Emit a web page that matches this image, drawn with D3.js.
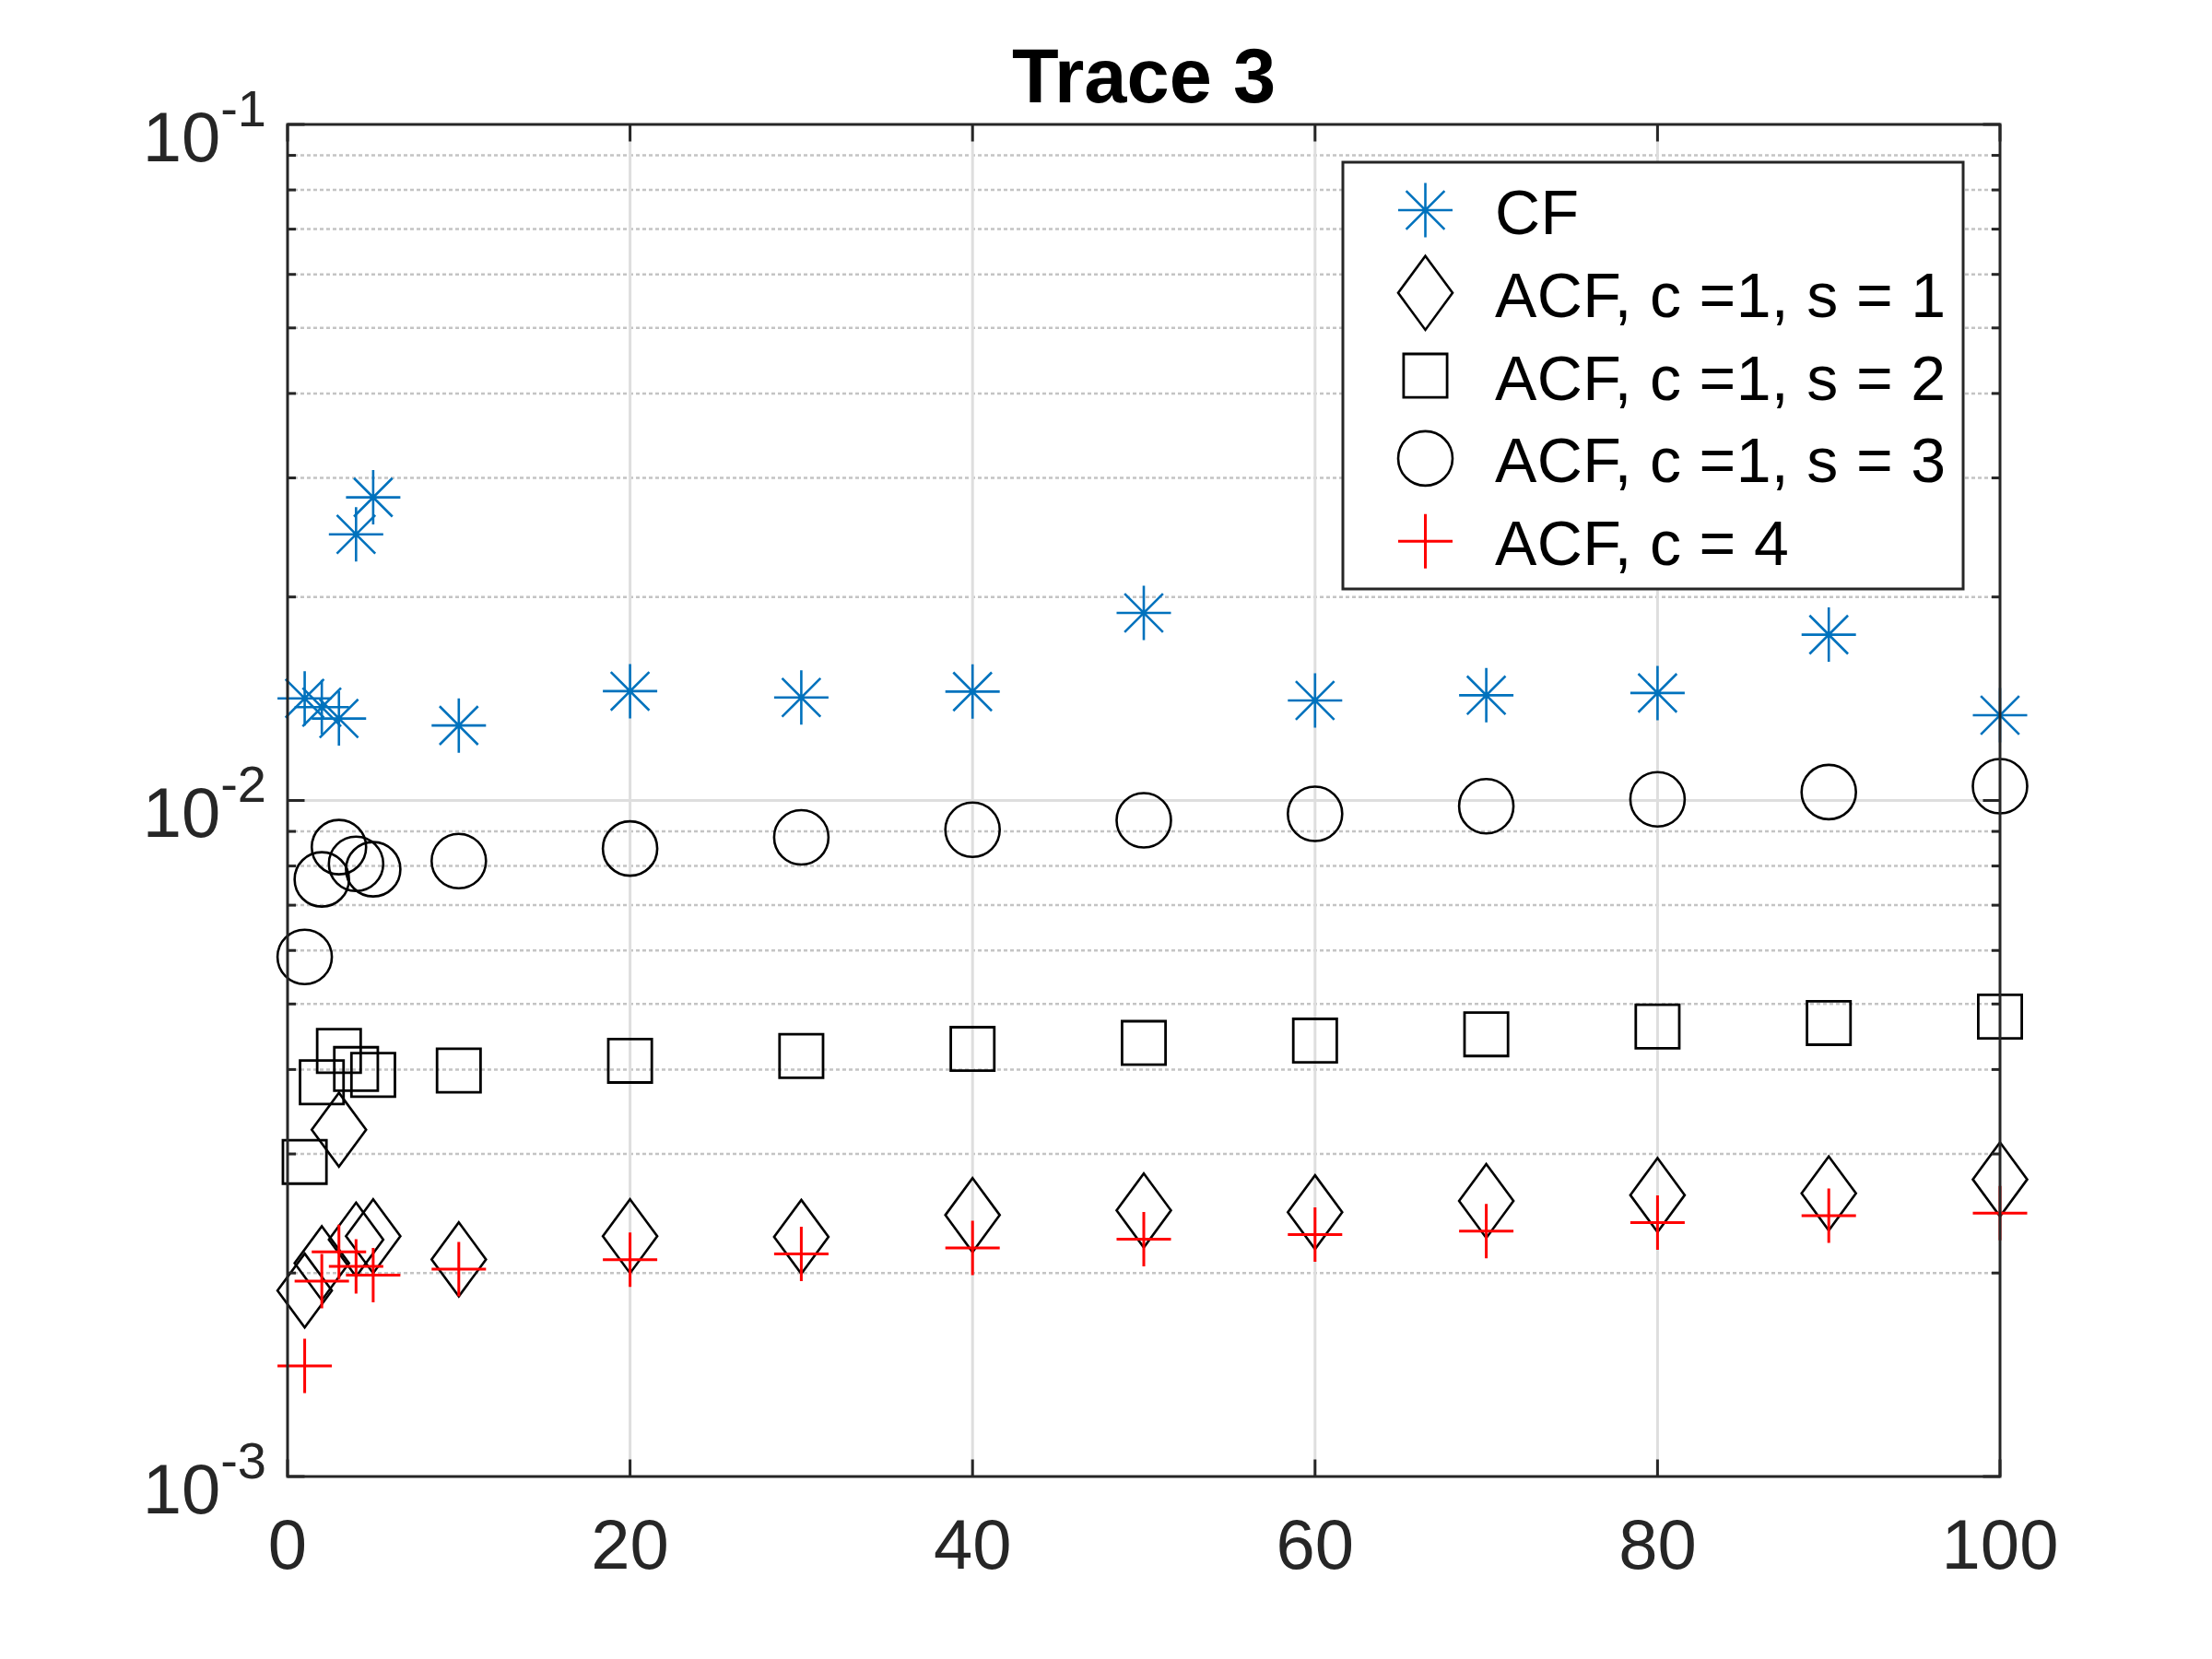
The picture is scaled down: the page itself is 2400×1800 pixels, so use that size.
<!DOCTYPE html>
<html>
<head>
<meta charset="utf-8">
<script src="https://cdn.jsdelivr.net/npm/d3@7/dist/d3.min.js"></script>
<style>
  html, body { margin: 0; padding: 0; background: #fff; }
  svg { display: block; }
</style>
</head>
<body>
<svg id="chart" width="2400" height="1800"></svg>
<script>
// ---------------- data ----------------
const titleText = "Trace 3";
const lags = [1, 2, 3, 4, 5, 10, 20, 30, 40, 50, 60, 70, 80, 90, 100];
const cf      = [0.01416, 0.01374, 0.01322, 0.02475, 0.02808, 0.01291, 0.01451, 0.01420, 0.01449, 0.01894, 0.01406, 0.01431, 0.01442, 0.01759, 0.01337];
const acfS1   = [0.001884, 0.002068, 0.003258, 0.002241, 0.002267, 0.002095, 0.002267, 0.002262, 0.002436, 0.002475, 0.002460, 0.002556, 0.002608, 0.002623, 0.002751];
const acfS2   = [0.002920, 0.003829, 0.004262, 0.004007, 0.003927, 0.003986, 0.004121, 0.004188, 0.004290, 0.004378, 0.004413, 0.004510, 0.004631, 0.004687, 0.004789];
const acfS3   = [0.005868, 0.007643, 0.008531, 0.008058, 0.007911, 0.008134, 0.008490, 0.008819, 0.009050, 0.009346, 0.009554, 0.009804, 0.01004, 0.01029, 0.01050];
const acfC4   = [0.001458, 0.001945, 0.002150, 0.002045, 0.001985, 0.002026, 0.002093, 0.002134, 0.002178, 0.002244, 0.002280, 0.002307, 0.002374, 0.002431, 0.002452];
const seriesNames = ["CF", "ACF, c =1, s = 1", "ACF, c =1, s = 2", "ACF, c =1, s = 3", "ACF, c = 4"];
const xTicks = [0, 20, 40, 60, 80, 100];
const yMajorExp = [-3, -2, -1];
const yDomain = [1e-3, 1e-1];
const xDomain = [0, 100];

// ---------------- layout ----------------
const L = 312, R = 2170, T = 135, B = 1602;
const axisColor = "#262626";
const svg = d3.select("#chart");
const x = d3.scaleLinear().domain(xDomain).range([L, R]);
const y = d3.scaleLog().domain(yDomain).range([B, T]);

const fontFam = "'Liberation Sans', Arial, Helvetica, sans-serif";

// minor y values
const yMinor = [];
for (let e = -3; e < -1; e++) for (let k = 2; k <= 9; k++) yMinor.push(k * Math.pow(10, e));

// ---------------- grid ----------------
const grid = svg.append("g");
grid.selectAll("line.minor").data(yMinor).join("line")
  .attr("x1", L).attr("x2", R)
  .attr("y1", d => y(d)).attr("y2", d => y(d))
  .attr("stroke", "#c4c4c4").attr("stroke-width", 2.5)
  .attr("stroke-dasharray", "4,3");
grid.selectAll("line.xmaj").data(xTicks.slice(1, -1)).join("line")
  .attr("x1", d => x(d)).attr("x2", d => x(d))
  .attr("y1", T).attr("y2", B)
  .attr("stroke", "#dedede").attr("stroke-width", 3);
grid.selectAll("line.ymaj").data([1e-2]).join("line")
  .attr("x1", L).attr("x2", R)
  .attr("y1", d => y(d)).attr("y2", d => y(d))
  .attr("stroke", "#dedede").attr("stroke-width", 3);

// ---------------- markers ----------------
const symbols = {
  asterisk: (r) => {
    const d = r * Math.SQRT1_2;
    return `M${-r},0L${r},0M0,${-r}L0,${r}M${-d},${-d}L${d},${d}M${-d},${d}L${d},${-d}`;
  },
  diamond: (r) => `M0,${-r * 1.36}L${r},0L0,${r * 1.36}L${-r},0Z`,
  square: (r) => { const s = r * 0.8; return `M${-s},${-s}L${s},${-s}L${s},${s}L${-s},${s}Z`; },
  circle: (r) => `M${r},0A${r},${r} 0 1,1 ${-r},0A${r},${r} 0 1,1 ${r},0Z`,
  plus: (r) => `M${-r},0L${r},0M0,${-r}L0,${r}`
};
const series = [
  { name: seriesNames[0], values: cf,    sym: "asterisk", color: "#0072BD", sw: 2.6 },
  { name: seriesNames[1], values: acfS1, sym: "diamond",  color: "#000000", sw: 2.6 },
  { name: seriesNames[2], values: acfS2, sym: "square",   color: "#000000", sw: 2.8 },
  { name: seriesNames[3], values: acfS3, sym: "circle",   color: "#000000", sw: 2.6 },
  { name: seriesNames[4], values: acfC4, sym: "plus",     color: "#FF0000", sw: 3 }
];
const R0 = 29.5;
const marks = svg.append("g");
series.forEach(s => {
  marks.append("g").selectAll("path").data(lags.map((l, i) => [l, s.values[i]])).join("path")
    .attr("transform", d => `translate(${x(d[0])},${y(d[1])})`)
    .attr("d", symbols[s.sym](R0))
    .attr("fill", "none").attr("stroke", s.color).attr("stroke-width", s.sw);
});

// ---------------- axes ----------------
const ax = svg.append("g").attr("stroke", axisColor);
ax.append("rect").attr("x", L).attr("y", T).attr("width", R - L).attr("height", B - T)
  .attr("fill", "none").attr("stroke-width", 3);
const majLen = 18.5, minLen = 9;
// x ticks top & bottom
xTicks.forEach(t => {
  ax.append("line").attr("x1", x(t)).attr("x2", x(t)).attr("y1", B).attr("y2", B - majLen).attr("stroke-width", 3);
  ax.append("line").attr("x1", x(t)).attr("x2", x(t)).attr("y1", T).attr("y2", T + majLen).attr("stroke-width", 3);
});
// y ticks left & right
yMajorExp.forEach(e => {
  const yy = y(Math.pow(10, e));
  ax.append("line").attr("x1", L).attr("x2", L + majLen).attr("y1", yy).attr("y2", yy).attr("stroke-width", 3);
  ax.append("line").attr("x1", R).attr("x2", R - majLen).attr("y1", yy).attr("y2", yy).attr("stroke-width", 3);
});
yMinor.forEach(v => {
  const yy = y(v);
  ax.append("line").attr("x1", L).attr("x2", L + minLen).attr("y1", yy).attr("y2", yy).attr("stroke-width", 3);
  ax.append("line").attr("x1", R).attr("x2", R - minLen).attr("y1", yy).attr("y2", yy).attr("stroke-width", 3);
});

// tick labels
svg.append("g").selectAll("text").data(xTicks).join("text")
  .attr("x", d => x(d)).attr("y", 1702)
  .attr("text-anchor", "middle")
  .attr("font-family", fontFam).attr("font-size", 76).attr("fill", axisColor)
  .text(d => d);

const yl = svg.append("g").selectAll("text").data(yMajorExp).join("text")
  .attr("x", 289).attr("y", d => y(Math.pow(10, d)) + 39.5)
  .attr("text-anchor", "end")
  .attr("font-family", fontFam).attr("font-size", 76).attr("fill", axisColor);
yl.append("tspan").text("10");
yl.append("tspan").attr("dy", -38).attr("font-size", 56).text(d => "-" + Math.abs(d));

// title
svg.append("text").attr("x", (L + R) / 2).attr("y", 111)
  .attr("text-anchor", "middle")
  .attr("font-family", fontFam).attr("font-size", 83).attr("font-weight", "bold").attr("fill", "#000")
  .text(titleText);

// ---------------- legend ----------------
const lg = svg.append("g");
lg.append("rect").attr("x", 1457).attr("y", 176).attr("width", 673).attr("height", 463)
  .attr("fill", "#fff").attr("stroke", axisColor).attr("stroke-width", 3);
series.forEach((s, i) => {
  const cy = 228 + i * 89.8;
  lg.append("path").attr("transform", `translate(1546.5,${cy})`)
    .attr("d", symbols[s.sym](R0))
    .attr("fill", "none").attr("stroke", s.color).attr("stroke-width", s.sw);
  lg.append("text").attr("x", 1622).attr("y", 254 + i * 89.8)
    .attr("font-family", fontFam).attr("font-size", 68).attr("letter-spacing", 0.35).attr("fill", "#000")
    .text(s.name);
});
</script>
</body>
</html>
